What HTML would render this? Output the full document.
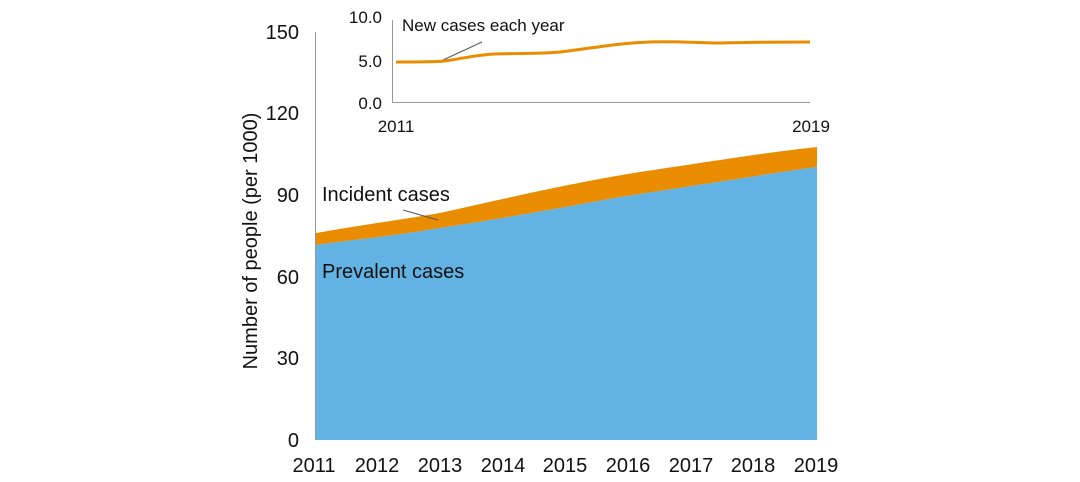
<!DOCTYPE html>
<html><head><style>body{margin:0;background:#fff}svg{display:block;font-family:"Liberation Sans",sans-serif}</style></head>
<body>
<svg width="1080" height="482" viewBox="0 0 1080 482">
<path d="M316,233 C380,222 400,220 440,213 C500,200 560,185 640,172 C720,160 770,152 817,147 L817,167 C760,175 700,185 620,197 C540,212 480,222 440,228 C380,238 350,240 316,245 Z" fill="#ea8c00"/>
<path d="M316,245 C350,240 380,238 440,228 C480,222 540,212 620,197 C700,185 760,175 817,167 L817,440 L316,440 Z" fill="#62b3e4"/>
<line x1="315.5" y1="32" x2="315.5" y2="440" stroke="#999" stroke-width="1"/>
<g font-size="20" fill="#111" text-anchor="end">
<text x="299" y="39">150</text><text x="299" y="120">120</text><text x="299" y="202">90</text><text x="299" y="284">60</text><text x="299" y="365">30</text><text x="299" y="447">0</text>
</g>
<g font-size="20" fill="#111" text-anchor="middle">
<text x="314" y="472">2011</text><text x="377" y="472">2012</text><text x="440" y="472">2013</text><text x="503" y="472">2014</text><text x="565" y="472">2015</text><text x="628" y="472">2016</text><text x="691" y="472">2017</text><text x="753" y="472">2018</text><text x="816" y="472">2019</text>
</g>
<text transform="translate(257,241) rotate(-90)" font-size="20" fill="#111" text-anchor="middle">Number of people (per 1000)</text>
<text x="322" y="201" font-size="20" fill="#111">Incident cases</text>
<line x1="403" y1="210" x2="438" y2="220" stroke="#555" stroke-width="1"/>
<text x="322" y="278" font-size="20" fill="#111">Prevalent cases</text>
<line x1="392.5" y1="20" x2="392.5" y2="102" stroke="#999"/>
<line x1="392" y1="102.5" x2="810" y2="102.5" stroke="#999"/>
<g font-size="17" fill="#111" text-anchor="end">
<text x="382" y="23">10.0</text><text x="382" y="67">5.0</text><text x="382" y="109">0.0</text>
</g>
<text x="396" y="132" font-size="17" fill="#111" text-anchor="middle">2011</text>
<text x="811" y="132" font-size="17" fill="#111" text-anchor="middle">2019</text>
<text x="402" y="31" font-size="17" fill="#111">New cases each year</text>
<line x1="482" y1="42" x2="443" y2="60" stroke="#555" stroke-width="1"/>
<path d="M396,62 C420,62 435,62 445,61 C465,58 475,55 495,54 C520,53 540,54 560,52 C600,47 620,43 650,42 C675,41 700,43 720,43 C760,42 790,42 810,42" fill="none" stroke="#ea8c00" stroke-width="3"/>
</svg>
</body></html>
